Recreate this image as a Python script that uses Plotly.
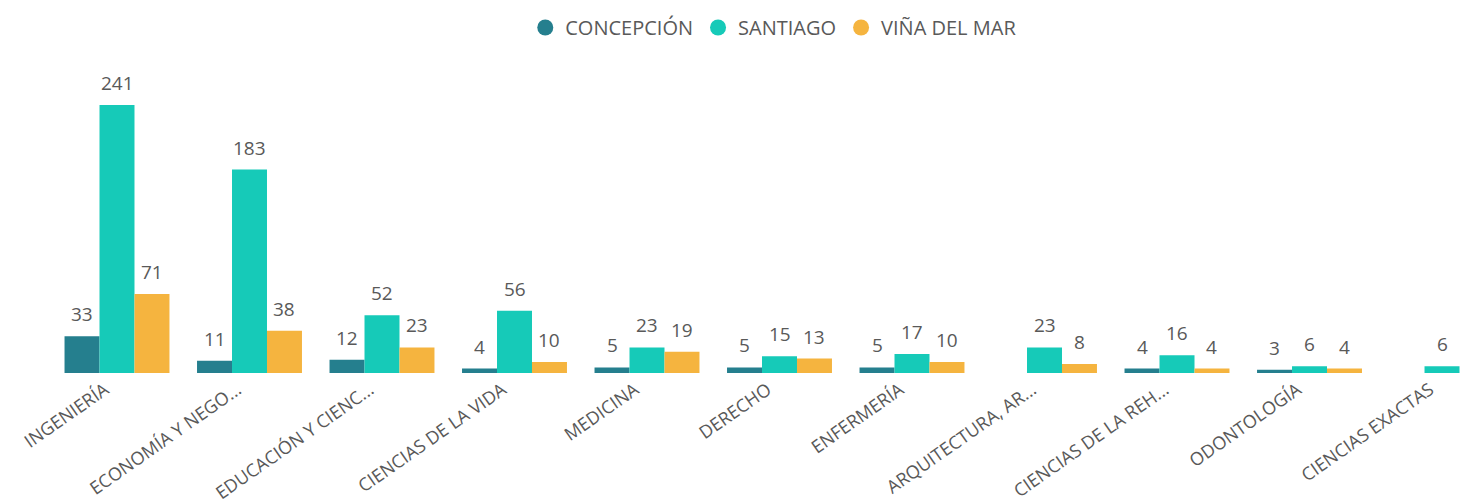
import plotly.graph_objects as go

categories = ["INGENIERÍA", "ECONOMÍA Y NEGO...", "EDUCACIÓN Y CIENC...", "CIENCIAS DE LA VIDA",
              "MEDICINA", "DERECHO", "ENFERMERÍA", "ARQUITECTURA, AR...",
              "CIENCIAS DE LA REH...", "ODONTOLOGÍA", "CIENCIAS EXACTAS"]
concepcion = [33, 11, 12, 4, 5, 5, 5, None, 4, 3, None]
santiago = [241, 183, 52, 56, 23, 15, 17, 23, 16, 6, 6]
vina = [71, 38, 23, 10, 19, 13, 10, 8, 4, 4, None]

series = [("CONCEPCIÓN", concepcion, "#257F8E"),
          ("SANTIAGO", santiago, "#16CAB8"),
          ("VIÑA DEL MAR", vina, "#F5B43F")]

FONT = "Open Sans, DejaVu Sans, sans-serif"
TXT = "#595959"

fig = go.Figure()
annotations = []
bar_w = 0.264
for k, (name, vals, col) in enumerate(series):
    fig.add_trace(go.Bar(x=categories, y=vals, name=name, marker_color=col,
                         marker_line_width=0, showlegend=False, hoverinfo="x+y+name"))
    fig.add_trace(go.Scatter(x=[None], y=[None], mode="markers", name=name,
                             marker=dict(color=col, size=20, symbol="circle")))
    off = (k - 1) * bar_w
    for i, v in enumerate(vals):
        if v is None:
            continue
        annotations.append(dict(x=i + off, y=v, xref="x", yref="y", text=str(v),
                                showarrow=False, yanchor="bottom", yshift=7,
                                font=dict(family=FONT, size=19, color=TXT)))

fig.update_layout(
    width=1467, height=495,
    margin=dict(l=0, r=0, t=52, b=130),
    paper_bgcolor="white", plot_bgcolor="white",
    barmode="group", bargap=0.208, bargroupgap=0,
    font=dict(family=FONT, color=TXT),
    legend=dict(orientation="h", x=0.522, xanchor="center",
                yref="container", y=1.0, yanchor="top",
                font=dict(family=FONT, size=20, color=TXT),
                itemsizing="trace", itemwidth=30, tracegroupgap=0),
    annotations=annotations,
)
fig.update_xaxes(range=[-0.8226, 10.249], showgrid=False, zeroline=False, showline=False,
                 ticks="", tickangle=-35, tickfont=dict(family=FONT, size=18, color=TXT),
                 ticklabelshift=-12, ticklabelstandoff=2,
                 automargin=False)
fig.update_yaxes(range=[0, 281.5], visible=False, showgrid=False, zeroline=False)

fig.write_html("out.html")
